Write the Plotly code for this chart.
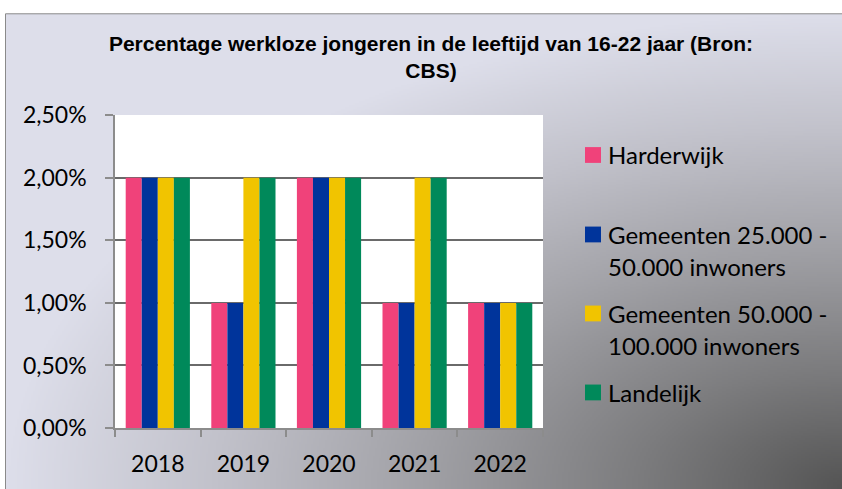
import base64, struct, zlib
import numpy as np
import plotly.graph_objects as go

# ---------------- data ----------------
years = ["2018", "2019", "2020", "2021", "2022"]
harderwijk = [0.02, 0.01, 0.02, 0.01, 0.01]
gem_25_50 = [0.02, 0.01, 0.02, 0.01, 0.01]
gem_50_100 = [0.02, 0.02, 0.02, 0.02, 0.01]
landelijk = [0.02, 0.02, 0.02, 0.02, 0.01]
series_names = ["Harderwijk", "Gemeenten 25.000 -<br>50.000 inwoners",
                "Gemeenten 50.000 -<br>100.000 inwoners", "Landelijk"]
y_ticks = [0, 0.005, 0.01, 0.015, 0.02, 0.025]
title_text = "Percentage werkloze jongeren in de leeftijd van 16-22 jaar (Bron:<br>CBS)"

colors = ["#F0427A", "#00349B", "#F1C400", "#00895A"]

# ---------------- geometry (window pixels) ----------------
W, H = 842, 489
PL, PR, PT, PB = 115, 543, 115, 432   # plot area edges
def px2x(px):
    return (px - PL) / (PR - PL)
def py2y(py):
    return (PB - py) / (PB - PT)

# ---------------- background gradient as PNG ----------------
def make_png(arr):
    h, w, _ = arr.shape
    raw = b"".join(b"\x00" + arr[r].tobytes() for r in range(h))
    def chunk(t, d):
        c = struct.pack(">I", len(d)) + t + d
        return c + struct.pack(">I", zlib.crc32(t + d) & 0xFFFFFFFF)
    return (b"\x89PNG\r\n\x1a\n" +
            chunk(b"IHDR", struct.pack(">IIBBBBB", w, h, 8, 2, 0, 0, 0)) +
            chunk(b"IDAT", zlib.compress(raw, 9)) + chunk(b"IEND", b""))

BX0, BY0 = 5.5, 12.5          # chart-area top-left
BX1, BY1 = W + 20, H + 20
iw, ih = 430, 250
xs = BX0 + (np.arange(iw) + 0.5) * (BX1 - BX0) / iw
ys = BY0 + (np.arange(ih) + 0.5) * (BY1 - BY0) / ih
XX, YY = np.meshgrid(xs, ys)
dx = np.clip((W + 4 - XX) / 840.0, 0, None)
dy = np.clip((H + 3 - YY) / 480.0, 0, None)
t = np.clip(np.sqrt(dx ** 2 + dy ** 2), 0, 1)
stops = [0, 0.25, 0.5, 0.75, 1.0]
rc = [84, 124, 160, 193, 221]
gc = [84, 124, 160, 193, 222]
bc = [84, 126, 165, 202, 234]
img = np.stack([np.interp(t, stops, rc), np.interp(t, stops, gc), np.interp(t, stops, bc)],
               axis=-1).round().astype(np.uint8)
bg_uri = "data:image/png;base64," + base64.b64encode(make_png(img)).decode()

# ---------------- figure ----------------
fig = go.Figure()
for name, vals, col in zip(series_names, [harderwijk, gem_25_50, gem_50_100, landelijk], colors):
    fig.add_trace(go.Bar(x=years, y=vals, name=name.replace("<br>", " "),
                         marker=dict(color=col, line=dict(width=0)),
                         showlegend=False))

tick_font = dict(family="Lato", size=23, color="#000000")
fig.update_layout(
    width=W, height=H, autosize=False,
    margin=dict(l=PL, r=W - PR, t=PT, b=H - PB, pad=0),
    paper_bgcolor="#ffffff", plot_bgcolor="#ffffff",
    separators=",.",
    barmode="group", bargap=0.25, bargroupgap=0,
    title=dict(text=title_text, x=431 / W, xanchor="center", xref="container",
               y=1 - 51 / H, yanchor="top", yref="container",
               font=dict(family="Liberation Sans", size=21, color="#000000", weight="bold")),
    xaxis=dict(showline=True, linecolor="#8c8c8c", linewidth=1.5,
               ticks="outside", tickson="boundaries", ticklen=7, tickcolor="#8c8c8c",
               tickwidth=1.5, showgrid=False, tickfont=tick_font, ticklabelstandoff=15),
    yaxis=dict(range=[0, 0.02502], tickvals=y_ticks, tickformat=".2%",
               showline=True, linecolor="#8c8c8c", linewidth=1.5,
               ticks="outside", ticklen=8, tickcolor="#8c8c8c", tickwidth=1.5,
               showgrid=True, gridcolor="#6a6a6a", gridwidth=1.8,
               zeroline=False, tickfont=tick_font, ticklabelstandoff=14),
    font=dict(family="Lato", color="#000000"),
)

fig.add_layout_image(dict(source=bg_uri, xref="paper", yref="paper",
                          x=px2x(BX0), y=py2y(BY0),
                          sizex=(BX1 - BX0) / (PR - PL), sizey=(BY1 - BY0) / (PB - PT),
                          xanchor="left", yanchor="top", sizing="stretch", layer="below"))

border = dict(color="#8a8a8a", width=1)
shapes = [
    # chart-area border: only the left and top edges fall inside the picture
    dict(type="line", xref="paper", yref="paper", x0=px2x(BX0), x1=px2x(BX0),
         y0=py2y(BY1), y1=py2y(BY0), line=border, layer="below"),
    dict(type="line", xref="paper", yref="paper", x0=px2x(BX0), x1=px2x(BX1),
         y0=py2y(BY0), y1=py2y(BY0), line=border, layer="below"),
    dict(type="rect", xref="paper", yref="paper", x0=0, x1=1, y0=0, y1=1,
         line=dict(width=0), fillcolor="#ffffff", layer="below"),
]

# manual legend (marker aligned with first line, Excel-like spacing)
legend_font = dict(family="Lato", size=24, color="#000000")
leg_marker_y = [155.5, 236, 316, 396]
leg_lines = [["Harderwijk"], ["Gemeenten 25.000 -", "50.000 inwoners"],
             ["Gemeenten 50.000 -", "100.000 inwoners"], ["Landelijk"]]
annotations = []
for col, my, lines in zip(colors, leg_marker_y, leg_lines):
    shapes.append(dict(type="rect", xref="paper", yref="paper",
                       x0=px2x(585), x1=px2x(601), y0=py2y(my + 8), y1=py2y(my - 8),
                       line=dict(width=0), fillcolor=col, layer="above"))
    for k, ln in enumerate(lines):
        annotations.append(dict(text=ln, xref="paper", yref="paper",
                                x=px2x(606), y=py2y(my + 32.5 * k), xanchor="left",
                                yanchor="middle", showarrow=False, font=legend_font))

fig.update_layout(shapes=shapes, annotations=annotations)
page_js = ("var b=document.body;b.style.margin='0px';b.style.overflow='hidden';"
           "b.style.fontSize='0px';b.style.lineHeight='0px';"
           "document.documentElement.style.overflow='hidden';")
fig.write_html("out.html", config={"displayModeBar": False}, post_script=page_js)
